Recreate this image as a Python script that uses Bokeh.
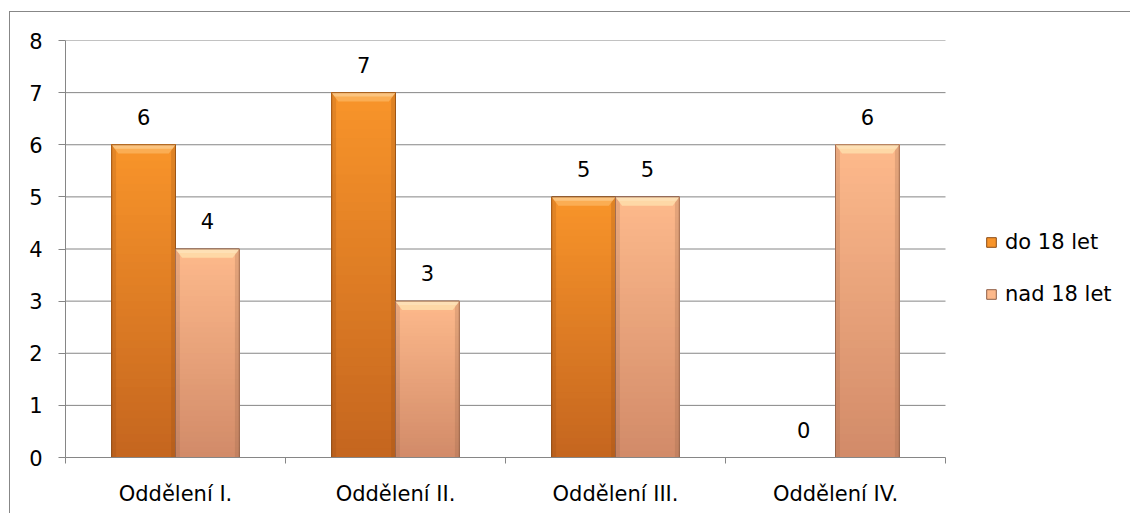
import numpy as np
from bokeh.plotting import figure
from bokeh.models import FixedTicker, Legend, LegendItem, Range1d
from bokeh.embed import file_html
from bokeh.resources import INLINE
from bokeh.core.properties import value

# ---- data ----
categories = ["Oddělení I.", "Oddělení II.", "Oddělení III.", "Oddělení IV."]
series_names = ["do 18 let", "nad 18 let"]
do_18 = [6, 7, 5, 0]
nad_18 = [4, 3, 5, 6]
y_ticks = [0, 1, 2, 3, 4, 5, 6, 7, 8]

FONT = "DejaVu Sans"
FONT_SIZE = "21px"
GRID = "#868686"

# per-series look: (bottom colour, top colour, bevel colour, outline colour)
styles = [
    ("#C5661F", "#F8942A", "#FCB25A", "#8A4A14"),
    ("#D28B69", "#FDB98B", "#FEDDAA", "#8E5E45"),
]

W, H = 1121, 502
LEFT, TOP, BOTTOM = 55, 28, 57
PLOT_PX = 880                      # width taken by the four category slots
frame_px = W - LEFT                # frame runs to the right edge; legend sits inside it
n_cat = len(categories)
x_end = n_cat * frame_px / PLOT_PX

p = figure(
    width=W, height=H,
    x_range=Range1d(0, x_end), y_range=Range1d(0, 8),
    output_backend="svg", toolbar_location=None,
    min_border_left=LEFT, min_border_right=0, min_border_top=TOP, min_border_bottom=BOTTOM,
)
p.styles = {
    "margin-left": "9px", "margin-top": "11px",
    "border-left": "1px solid #878787", "border-top": "1px solid #878787",
}
p.outline_line_color = None
p.background_fill_color = "white"
p.border_fill_color = "white"

# axes
centers = [i + 0.5 for i in range(n_cat)]
bounds = list(range(n_cat + 1))
p.xaxis.ticker = FixedTicker(ticks=centers, minor_ticks=bounds)
p.xaxis.bounds = (0, n_cat)
p.xaxis.major_label_overrides = {c: name for c, name in zip(centers, categories)}
p.xaxis.major_tick_out = 0
p.xaxis.major_tick_in = 0
p.xaxis.minor_tick_out = 6
p.xaxis.minor_tick_in = 0
p.xaxis.minor_tick_line_color = GRID
p.xaxis.axis_line_color = GRID
p.xaxis.major_label_standoff = 18

p.yaxis.ticker = FixedTicker(ticks=y_ticks)
p.yaxis.major_tick_out = 7
p.yaxis.major_tick_in = 0
p.yaxis.minor_tick_line_color = None
p.yaxis.major_tick_line_color = GRID
p.yaxis.axis_line_color = GRID
p.yaxis.major_label_standoff = 16

for ax in (p.xaxis, p.yaxis):
    ax.major_label_text_font = FONT
    ax.major_label_text_font_size = FONT_SIZE
    ax.major_label_text_color = "black"

# horizontal gridlines only across the category area
p.xgrid.visible = False
p.ygrid.visible = False
p.segment(x0=0, x1=n_cat, y0=y_ticks[1:], y1=y_ticks[1:], line_color=GRID, line_width=1)

# bars
bar_w = 0.29
offsets = [-bar_w / 2, bar_w / 2]
N = 40
legend_items = []

for s, (vals, name) in enumerate(zip([do_18, nad_18], series_names)):
    c_bot, c_top, c_bev, c_line = styles[s]
    xs = [c + offsets[s] for c in centers]

    base = p.vbar(x=xs, top=vals, bottom=0, width=bar_w,
                  fill_color=c_top, line_color=c_line, line_width=1)
    legend_items.append(LegendItem(label=name, renderers=[base]))

    # vertical colour gradient: overlapping slices, each from its level up to the top
    b = np.array([int(c_bot[i:i + 2], 16) for i in (1, 3, 5)], float)
    t = np.array([int(c_top[i:i + 2], 16) for i in (1, 3, 5)], float)
    L, R, B, T, C = [], [], [], [], []
    for k in range(N):
        f = k / (N - 1)
        rgb = b + (t - b) * f
        col = "#%02x%02x%02x" % tuple(int(round(q)) for q in rgb)
        for x, v in zip(xs, vals):
            if v <= 0:
                continue
            L.append(x - bar_w / 2)
            R.append(x + bar_w / 2)
            B.append(v * k / N)
            T.append(v)
            C.append(col)
    p.quad(left=L, right=R, bottom=B, top=T, fill_color=C, line_color=None)

    # darker side edges
    pos = [(x, v) for x, v in zip(xs, vals) if v > 0]
    ew = 0.02
    p.quad(left=[x - bar_w / 2 for x, v in pos], right=[x - bar_w / 2 + ew for x, v in pos],
           bottom=0, top=[v for x, v in pos], fill_color=c_line, fill_alpha=0.18, line_color=None)
    p.quad(left=[x + bar_w / 2 - ew for x, v in pos], right=[x + bar_w / 2 for x, v in pos],
           bottom=0, top=[v for x, v in pos], fill_color=c_line, fill_alpha=0.22, line_color=None)

    # bevelled top
    h, d = 0.17, 0.03
    pxs = [[x - bar_w / 2, x + bar_w / 2, x + bar_w / 2 - d, x - bar_w / 2 + d] for x, v in pos]
    pys = [[v, v, v - h, v - h] for x, v in pos]
    p.patches(xs=pxs, ys=pys, fill_color=c_bev, fill_alpha=0.85, line_color=None)
    pys2 = [[v, v, v - h * 0.45, v - h * 0.45] for x, v in pos]
    pxs2 = [[x - bar_w / 2, x + bar_w / 2, x + bar_w / 2 - d * 0.45, x - bar_w / 2 + d * 0.45] for x, v in pos]
    p.patches(xs=pxs2, ys=pys2, fill_color="#FFF2D0", fill_alpha=0.35, line_color=None)

    # outline on top
    p.vbar(x=[x for x, v in pos], top=[v for x, v in pos], bottom=0, width=bar_w,
           fill_color=None, line_color=c_line, line_width=1, line_alpha=0.8)

    # value labels
    p.text(x=xs, y=vals, text=[str(v) for v in vals],
           text_align="center", text_baseline="alphabetic", y_offset=-28,
           text_font=value(FONT), text_font_size=FONT_SIZE, text_color="black")

legend = Legend(items=legend_items, location=(920, 151))
legend.glyph_width = 12
legend.glyph_height = 12
legend.label_height = 20
legend.spacing = 28
legend.padding = 0
legend.margin = 0
legend.label_standoff = 8
legend.border_line_color = None
legend.background_fill_alpha = 0
legend.label_text_font = FONT
legend.label_text_font_size = FONT_SIZE
legend.label_text_color = "black"
p.add_layout(legend, "center")

open("out.html", "w").write(file_html(p, INLINE))
